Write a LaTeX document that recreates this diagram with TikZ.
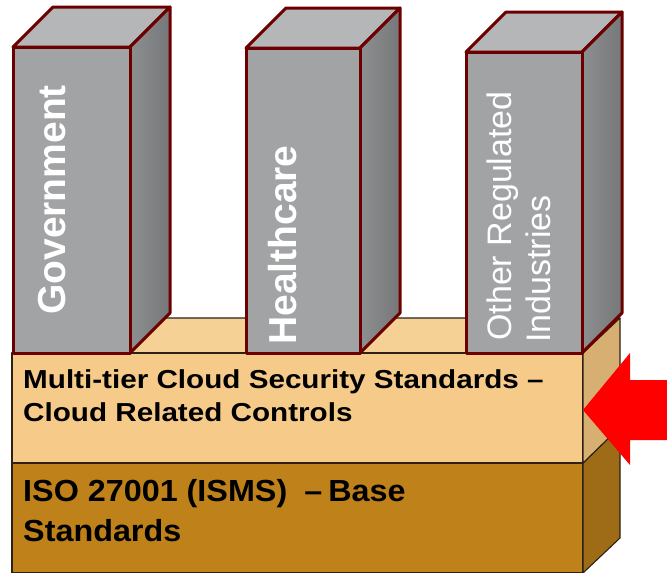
\documentclass[tikz,border=0pt]{standalone}
\usepackage{fontspec}
\setmainfont{Liberation Sans}
\newfontfamily\widesans[FakeStretch=1.14]{Liberation Sans}
\newfontfamily\isosans[FakeStretch=1.06]{Liberation Sans}

\definecolor{pillarFront}{RGB}{161,163,165}
\definecolor{pillarTop}{RGB}{181,182,183}
\definecolor{pillarSideA}{RGB}{142,143,144}
\definecolor{pillarSideB}{RGB}{118,119,120}
\definecolor{pillarEdge}{RGB}{108,0,0}
\definecolor{midFront}{RGB}{246,203,138}
\definecolor{midTop}{RGB}{245,209,150}
\definecolor{midSide}{RGB}{216,175,114}
\definecolor{baseFront}{RGB}{191,130,26}
\definecolor{baseSide}{RGB}{158,107,22}
\definecolor{slabEdge}{RGB}{45,32,20}
\definecolor{arrowRed}{RGB}{255,0,0}

\begin{document}
\begin{tikzpicture}[x=1pt,y=-1pt,
  slab/.style={draw=slabEdge,line width=1.1pt,line join=round},
  pillar/.style={draw=pillarEdge,line width=3pt,line join=round},
  pillarlabel/.style={rotate=90,anchor=base west,inner sep=0pt,text=white,
    font=\bfseries\fontsize{39}{39}\selectfont},
  pillarlabelthin/.style={rotate=90,anchor=base west,inner sep=0pt,text=white,
    font=\fontsize{34}{34}\selectfont},
  midlabel/.style={anchor=base west,inner sep=0pt,text=black,
    font=\widesans\bfseries\fontsize{26}{26}\selectfont},
  baselabel/.style={anchor=base west,inner sep=0pt,text=black,
    font=\isosans\bfseries\fontsize{30.5}{30.5}\selectfont}]

\useasboundingbox (0,0) rectangle (667,573);

% ISO base slab
\filldraw[slab,fill=baseFront] (12,463) rectangle (583,573);
\filldraw[slab,fill=baseSide] (583,463) -- (620,427) -- (620,538) -- (583,573) -- cycle;

% cloud-controls slab
\filldraw[slab,fill=midTop] (12,353) -- (49,318) -- (620,318) -- (583,353) -- cycle;
\filldraw[slab,fill=midFront] (12,353) rectangle (583,463);
\filldraw[slab,fill=midSide] (583,353) -- (620,318) -- (620,427) -- (583,463) -- cycle;

% industry pillars: left edge / right edge / top of front face
\foreach \l/\r/\t in {13/130/47, 246/360/48, 466/582/52} {
  \filldraw[pillar,fill=pillarTop] (\l,\t) -- (\l+40,\t-40) -- (\r+40,\t-40) -- (\r,\t) -- cycle;
  \draw[pillar,left color=pillarSideA,right color=pillarSideB]
    (\r,\t) -- (\r+40,\t-40) -- (\r+40,313) -- (\r,353) -- cycle;
  \filldraw[pillar,fill=pillarFront] (\l,\t) rectangle (\r,353);
}

% pointer arrow
\fill[arrowRed] (583,410) -- (630,353) -- (630,380) -- (667,380)
  -- (667,440) -- (630,440) -- (630,465) -- cycle;

% labels
\node[pillarlabel] (gov) at (65,315) {Government};
\node[pillarlabel] (health) at (296.5,345) {Healthcare};
\node[pillarlabelthin] (other1) at (511,341) {Other Regulated};
\node[pillarlabelthin] (other2) at (550,343) {Industries};

\node[midlabel] (mid1) at (23,388.5) {Multi-tier Cloud Security Standards –};
\node[midlabel] (mid2) at (23,421.5) {Cloud Related Controls};

\node[baselabel] (iso1) at (23,501.7) {ISO 27001 (ISMS)\hspace{17pt}–\hspace{6pt}Base};
\node[baselabel] (iso2) at (23,541.7) {Standards};
\end{tikzpicture}
\end{document}
